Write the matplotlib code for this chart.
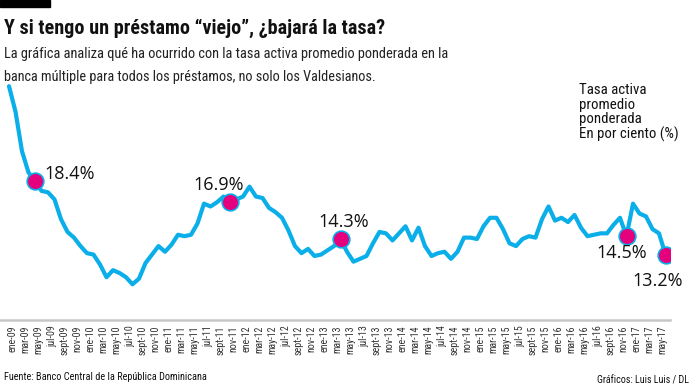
import matplotlib
matplotlib.use("Agg")
import matplotlib.pyplot as plt
from matplotlib import font_manager as fm
import numpy as np

# ---------------- data ----------------
tick_labels = [
    "ene-09", "mar-09", "may-09", "jul-09", "sept-09", "nov-09",
    "ene-10", "mar-10", "may-10", "jul-10", "sept-10", "nov-10",
    "ene-11", "mar-11", "may-11", "jul-11", "sept-11", "nov-11",
    "ene-12", "mar-12", "may-12", "jul-12", "sept-12", "nov-12",
    "ene-13", "mar-13", "may-13", "jul-13", "sept-13", "nov-13",
    "ene-14", "mar-14", "may-14", "jul-14", "sept-14", "nov-14",
    "ene-15", "mar-15", "may-15", "jul-15", "sept-15", "nov-15",
    "ene-16", "mar-16", "may-16", "jul-16", "sept-16", "nov-16",
    "ene-17", "mar-17", "may-17",
]

# monthly weighted average lending rate (%), ene-09 .. jun-17
tasa = [
    25.1, 23.3, 20.5, 19.0, 18.4, 17.7, 17.6, 17.1, 15.7, 14.8,
    14.4, 13.8, 13.3, 13.2, 12.5, 11.6, 12.1, 11.9, 11.6, 11.1,
    11.5, 12.6, 13.2, 13.8, 13.4, 13.9, 14.6, 14.5, 14.6, 15.4,
    16.8, 16.6, 16.9, 17.3, 16.9, 17.1, 17.3, 18.0, 17.3, 17.2,
    16.5, 16.2, 15.8, 14.9, 13.8, 13.3, 13.6, 13.1, 13.2, 13.5,
    13.8, 14.3, 13.4, 12.7, 12.9, 13.1, 14.0, 14.8, 14.7, 14.2,
    14.7, 15.2, 14.2, 15.1, 13.8, 13.1, 13.3, 13.4, 12.9, 13.4,
    14.4, 14.4, 14.3, 15.2, 15.8, 15.8, 15.0, 14.0, 13.8, 14.3,
    14.5, 14.4, 15.7, 16.6, 15.6, 15.8, 15.5, 16.0, 15.1, 14.5,
    14.6, 14.7, 14.7, 15.3, 15.8, 14.5, 16.8, 16.1, 15.9, 15.0,
    14.7, 13.2,
]

highlight_idx = [4, 34, 51, 95, 101]
highlight_txt = ["18.4%", "16.9%", "14.3%", "14.5%", "13.2%"]
highlight_off = [(9, 7, "left"), (-11, 17, "center"), (3, 17, "center"),
                 (-5, -17, "center"), (-8, -26, "center")]

# ---------------- fonts ----------------
names = {f.name for f in fm.fontManager.ttflist}
def pick(cands, default="DejaVu Sans"):
    for c in cands:
        if c in names:
            return c
    return default

cond = pick(["Liberation Sans Narrow", "Roboto Condensed", "Open Sans Condensed",
             "Noto Sans Condensed", "DejaVu Sans Condensed"], "Roboto")
regular = pick(["Open Sans", "Noto Sans", "Lato"])

W, H = 693, 392
fig = plt.figure(figsize=(W / 100, H / 100), dpi=100)
fig.patch.set_facecolor("white")
renderer = fig.canvas.get_renderer()

def ptext(x, y, s, target_w=None, **kw):
    t = fig.text(x / W, 1 - y / H, s, **kw)
    if target_w:
        w = t.get_window_extent(renderer).width
        t.set_fontsize(t.get_fontsize() * target_w / w)
    return t

# ---------------- axes ----------------
ax_left, ax_right = 0, 670
ax_top, ax_bot = 80, 320
ax = fig.add_axes([ax_left / W, 1 - ax_bot / H, (ax_right - ax_left) / W,
                   (ax_bot - ax_top) / H])
n = len(tasa)
x = np.arange(n)
px_per = 6.5
x0 = 9
ax.set_xlim((ax_left - x0) / px_per, (ax_right - x0) / px_per)
v_per_px = 1 / 14.15
ax.set_ylim(18.4 - (ax_bot - 181) * v_per_px, 18.4 + (181 - ax_top) * v_per_px)

blue = "#0aaee8"
mag = "#e5007d"
ax.plot(x, tasa, color=blue, lw=3.0, solid_joinstyle="round", solid_capstyle="round",
        zorder=2)
hx = [x[i] for i in highlight_idx]
hy = [tasa[i] for i in highlight_idx]
ax.plot(hx, hy, "o", ms=12, mfc=mag, mec=blue, mew=1.2, zorder=3)
for i, s, (dx, dy, ha) in zip(highlight_idx, highlight_txt, highlight_off):
    ax.annotate(s, (x[i], tasa[i]), xytext=(dx, dy), textcoords="offset pixels",
                ha=ha, va="center", fontsize=13, color="#111111", family=regular)

for sp in ["top", "left", "right"]:
    ax.spines[sp].set_visible(False)
ax.spines["bottom"].set_color("#c6c6c6")
ax.spines["bottom"].set_linewidth(1.8)
ax.set_yticks([])
ticks = np.arange(0, 101, 2) + 0.57
ax.set_xticks(ticks)
ax.set_xticklabels(tick_labels, rotation=90, fontsize=7.2, color="#333333",
                   family=cond)
ax.tick_params(axis="x", length=0, pad=4)
ax.set_facecolor("none")

# ---------------- texts ----------------
fig.patches.append(plt.Rectangle((0, 1 - 7 / H), 50 / W, 7 / H, transform=fig.transFigure,
                                 color="black"))
ptext(4, 34, "Y si tengo un préstamo \u201cviejo\u201d, ¿bajará la tasa?", target_w=381,
      fontsize=17, fontweight="bold", family=cond, va="baseline", color="#111111")
ptext(4, 58, "La gráfica analiza qué ha ocurrido con la tasa activa promedio ponderada en la",
      target_w=446, fontsize=13, family=cond, va="baseline", color="#222222")
ptext(4, 81, "banca múltiple para todos los préstamos, no solo los Valdesianos.",
      target_w=373, fontsize=13, family=cond, va="baseline", color="#222222")
ptext(579, 83, "Tasa activa\npromedio\nponderada\nEn por ciento (%)", target_w=99,
      fontsize=9, family=cond, va="top", ha="left", color="#111111", linespacing=1.05)
ptext(4, 380, "Fuente: Banco Central de la República Dominicana", target_w=203,
      fontsize=7.5, family=cond, va="baseline", color="#111111")
ptext(689, 384, "Gráficos: Luis Luis / DL", target_w=92, fontsize=7.5, family=cond,
      va="baseline", ha="right", color="#111111")

fig.savefig("out.png", dpi=100, facecolor="white")
